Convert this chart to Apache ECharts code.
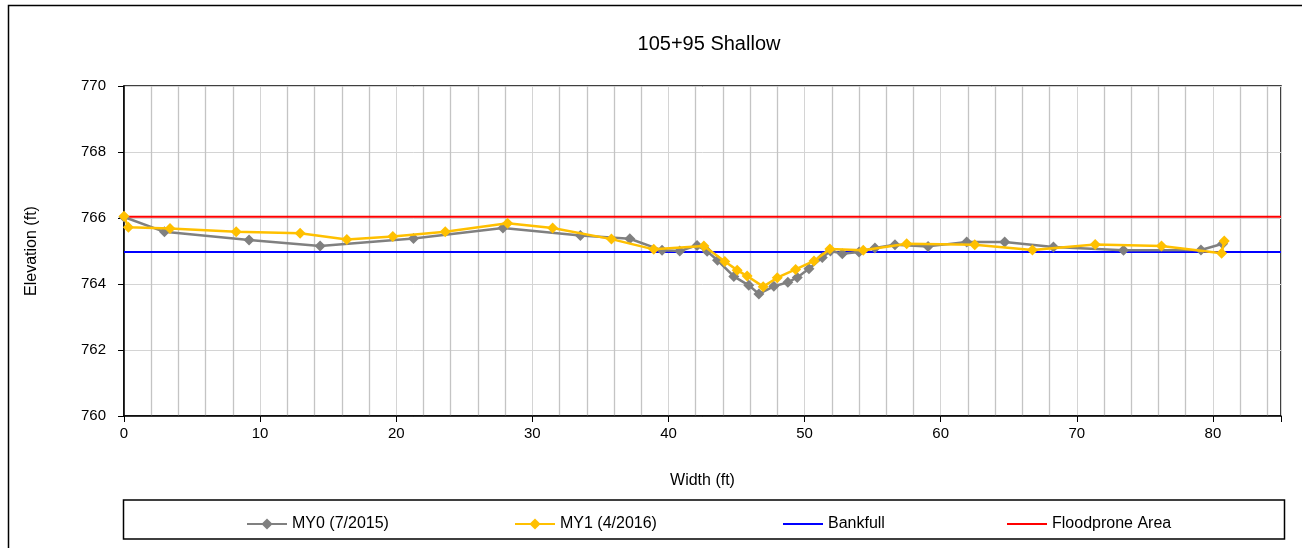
<!DOCTYPE html>
<html>
<head>
<meta charset="utf-8">
<script src="https://cdn.jsdelivr.net/npm/echarts@6/dist/echarts.min.js"></script>
<style>
html,body{margin:0;padding:0;background:#fff;}
#c{width:1302px;height:548px;}
</style>
</head>
<body>
<div id="c"></div>
<script>
const titleText = '105+95 Shallow';
const xName = 'Width (ft)';
const yName = 'Elevation (ft)';
const seriesNames = ['MY0 (7/2015)', 'MY1 (4/2016)', 'Bankfull', 'Floodprone Area'];

const my0Width = [0, 2.97, 9.19, 14.41, 21.27, 27.84, 33.53, 37.16, 39.53, 40.83, 42.1, 42.84, 43.6, 44.8, 45.9, 46.64, 47.74, 48.77, 49.46, 50.32, 51.3, 51.9, 52.77, 54.0, 55.17, 56.64, 59.07, 61.91, 64.7, 68.28, 73.43, 79.12, 80.71];
const my0Elev  = [766.03, 765.58, 765.33, 765.15, 765.38, 765.70, 765.47, 765.37, 765.02, 765.0, 765.17, 764.99, 764.72, 764.23, 763.96, 763.70, 763.93, 764.05, 764.2, 764.46, 764.8, 765.0, 764.92, 764.97, 765.09, 765.19, 765.14, 765.27, 765.27, 765.12, 765.02, 765.03, 765.22];

const my1Width = [0, 0.32, 3.38, 8.24, 12.94, 16.37, 19.75, 23.6, 28.18, 31.49, 35.81, 38.92, 42.6, 44.14, 45.05, 45.78, 46.96, 47.99, 49.34, 50.69, 51.86, 54.31, 57.5, 62.5, 66.74, 71.35, 76.22, 80.64, 80.83];
const my1Elev  = [766.05, 765.72, 765.68, 765.58, 765.54, 765.35, 765.44, 765.58, 765.84, 765.70, 765.36, 765.05, 765.15, 764.68, 764.42, 764.24, 763.92, 764.19, 764.44, 764.7, 765.06, 765.02, 765.22, 765.19, 765.03, 765.2, 765.15, 764.93, 765.3];

const bankfullWidth = [0, 85];
const bankfullElev = [764.97, 764.97];
const floodWidth = [0, 85];
const floodElev = [766.04, 766.04];

const xMin = 0, xMax = 85, xInterval = 10;
const yMin = 760, yMax = 770, yInterval = 2;

function pairs(xs, ys){ return xs.map((x,i)=>[x, ys[i]]); }

const FONT = 'Liberation Sans';
const chart = echarts.init(document.getElementById('c'), null, {renderer:'canvas'});

const legendLefts = [241, 509, 777, 1001];
const legends = seriesNames.map((n,i)=>({
  data:[ i >= 2 ? {name:n, itemStyle:{opacity:0}} : {name:n} ],
  left: legendLefts[i], top: 511, orient:'horizontal',
  itemWidth: 40, itemHeight: 14, itemGap: 0, selectedMode:false,
  textStyle:{fontFamily:FONT, fontSize:16, color:'#000'}
}));

chart.setOption({
  animation:false,
  backgroundColor:'#fff',
  textStyle:{fontFamily:FONT},
  grid:{left:124, top:86, right:21, bottom:132, show:true, borderColor:'#000', borderWidth:1.5, backgroundColor:'transparent'},
  legend: legends,
  graphic:[
    {type:'rect', shape:{x:8.5, y:5.5, width:1300, height:550}, style:{fill:'none', stroke:'#000', lineWidth:1.5}, silent:true, z:-1},
    {type:'rect', shape:{x:123.5, y:500, width:1161, height:39}, style:{fill:'none', stroke:'#000', lineWidth:1.5}, silent:true, z:-1},
    {type:'text', style:{x:709, y:44, text:titleText, textAlign:'center', textVerticalAlign:'middle', fontFamily:FONT, fontSize:20, fill:'#000'}}
  ],
  xAxis:{
    type:'value', min:xMin, max:xMax, interval:xInterval,
    name:xName, nameLocation:'middle', nameGap:57,
    nameTextStyle:{fontFamily:FONT, fontSize:16, color:'#000'},
    axisLine:{show:true, onZero:false, lineStyle:{color:'#000', width:1.5}},
    axisTick:{show:true, length:6, lineStyle:{color:'#000'}},
    axisLabel:{fontFamily:FONT, fontSize:15, color:'#000', margin:10,
      formatter:(v)=> v>80 ? '' : String(v)},
    splitLine:{show:true, lineStyle:{color:'#d4d4d4', width:1}},
    minorTick:{show:false, splitNumber:5},
    minorSplitLine:{show:true, lineStyle:{color:'#c4c4c4', width:1.3}}
  },
  yAxis:{
    type:'value', min:yMin, max:yMax, interval:yInterval,
    name:yName, nameLocation:'middle', nameGap:84, nameRotate:90,
    nameTextStyle:{fontFamily:FONT, fontSize:16, color:'#000'},
    axisLine:{show:true, onZero:false, lineStyle:{color:'#000', width:1.5}},
    axisTick:{show:true, length:6, lineStyle:{color:'#000'}},
    axisLabel:{fontFamily:FONT, fontSize:15, color:'#000', margin:18},
    splitLine:{show:true, lineStyle:{color:'#d4d4d4', width:1}}
  },
  series:[
    {name:seriesNames[2], type:'line', data:pairs(bankfullWidth, bankfullElev), symbol:'none',
      lineStyle:{color:'#0000ff', width:2}, itemStyle:{color:'#0000ff'}, z:3},
    {name:seriesNames[3], type:'line', data:pairs(floodWidth, floodElev), symbol:'none',
      lineStyle:{color:'#ff0000', width:2}, itemStyle:{color:'#ff0000'}, z:3},
    {name:seriesNames[0], type:'line', data:pairs(my0Width, my0Elev), symbol:'diamond', symbolSize:11,
      lineStyle:{color:'#808080', width:2.5}, itemStyle:{color:'#808080'}, z:4},
    {name:seriesNames[1], type:'line', data:pairs(my1Width, my1Elev), symbol:'diamond', symbolSize:11,
      lineStyle:{color:'#ffc000', width:2.5}, itemStyle:{color:'#ffc000'}, z:5}
  ]
});
</script>
</body>
</html>
